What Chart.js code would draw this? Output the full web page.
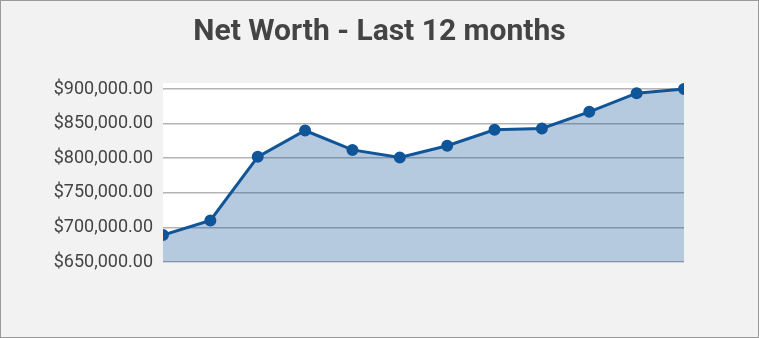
<!DOCTYPE html>
<html>
<head>
<meta charset="utf-8">
<script src="https://cdn.jsdelivr.net/npm/chart.js@4/dist/chart.umd.min.js"></script>
<style>
    html, body { margin: 0; padding: 0; background: #f2f2f2; }
    #frame {
        width: 759px;
        height: 338px;
        box-sizing: border-box;
        border: 1px solid #9a9a9a;
        background: #f2f2f2;
    }
    canvas { display: block; }
</style>
</head>
<body>
<div id="frame"><canvas id="net-worth" width="757" height="336"></canvas></div>
<script>
// one point per month, oldest first (x labels are not shown on the chart)
let monthLabels = ['Month 1', 'Month 2', 'Month 3', 'Month 4', 'Month 5', 'Month 6',
                   'Month 7', 'Month 8', 'Month 9', 'Month 10', 'Month 11', 'Month 12'];
let netWorthValues = [689000, 710000, 802000, 840000, 812000, 801000,
                      818000, 841000, 843000, 867000, 894000, 900000];
let axisMin  = 650000;
let axisMax  = 900000;
let axisStep = 50000;

let netWorthChart = {
    variables : {
        primaryColor : 'rgb(17,85,153)',
        fillColor    : 'rgba(17,85,153,0.31)',
        textColor    : '#444444',
        gridColor    : '#b4b4b4'
    },
    functions : {
        money : ( value ) => {
            return '$' + Number( value ).toLocaleString( 'en-US', { minimumFractionDigits: 2, maximumFractionDigits: 2 } );
        },
        drawChart : ( canvas ) => {
            // white plot background, a little taller than the grid
            let plotBackground = {
                id: 'plotBackground',
                beforeDraw: ( chart ) => {
                    let area = chart.chartArea;
                    let ctx  = chart.ctx;
                    ctx.save();
                    ctx.fillStyle = '#ffffff';
                    ctx.fillRect( area.left, area.top - 6, area.right - area.left, area.bottom - area.top + 6 );
                    ctx.restore();
                }
            };

            let ctx = canvas.getContext( '2d' );
            let chart = new Chart( ctx, {
                type: 'line',
                data: {
                    labels: monthLabels,
                    datasets: [{
                        label: 'Net Worth',
                        data: netWorthValues,
                        borderColor: netWorthChart.variables.primaryColor,
                        backgroundColor: netWorthChart.variables.fillColor,
                        borderWidth: 3,
                        fill: 'start',
                        tension: 0,
                        pointRadius: 5,
                        pointBorderWidth: 2,
                        pointBackgroundColor: netWorthChart.variables.primaryColor,
                        pointBorderColor: netWorthChart.variables.primaryColor,
                        clip: { left: 0, right: 0, top: 10, bottom: 0 }
                    }]
                },
                options: {
                    responsive: false,
                    animation: false,
                    layout: {
                        padding: { left: 0, right: 0, top: 0, bottom: 75 }
                    },
                    plugins: {
                        legend: { display: false },
                        tooltip: { enabled: false },
                        title: {
                            display: true,
                            text: 'Net Worth - Last 12 months',
                            color: netWorthChart.variables.textColor,
                            font: { family: 'Roboto', size: 30, weight: 'bold' },
                            padding: { top: 13, bottom: 39 }
                        }
                    },
                    scales: {
                        x: {
                            display: false,
                            offset: false
                        },
                        y: {
                            min: axisMin,
                            max: axisMax,
                            border: { display: false },
                            grid: {
                                color: netWorthChart.variables.gridColor,
                                lineWidth: 1.5,
                                drawTicks: false
                            },
                            ticks: {
                                stepSize: axisStep,
                                padding: 10,
                                color: netWorthChart.variables.textColor,
                                font: { family: 'Roboto', size: 18 },
                                callback: ( value ) => netWorthChart.functions.money( value )
                            },
                            afterFit: ( scale ) => { scale.width = 162; }
                        },
                        // empty right margin so the title stays centred on the whole canvas
                        rightGap: {
                            position: 'right',
                            display: true,
                            border: { display: false },
                            grid: { display: false },
                            ticks: { display: false },
                            afterFit: ( scale ) => { scale.width = 74; }
                        }
                    }
                },
                plugins: [ plotBackground ]
            } );
        }
    }
};

netWorthChart.functions.drawChart( document.getElementById( 'net-worth' ) );
</script>
</body>
</html>
